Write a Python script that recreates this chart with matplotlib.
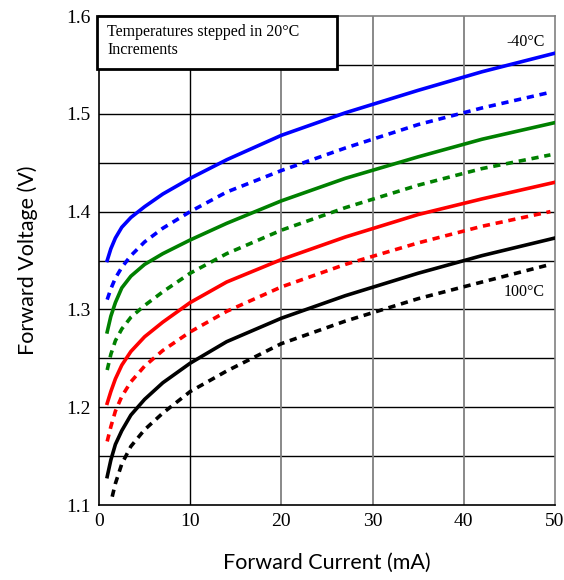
import matplotlib.pyplot as plt

# Forward voltage vs forward current, -40C (top) to 100C (bottom) in 20C steps
x_full = [0.9, 1.3, 1.8, 2.5, 3.5, 5, 7, 10, 14, 20, 27, 35, 42, 50]
x_dash = [0.9, 1.3, 1.8, 2.5, 3.5, 5, 7, 10, 14, 20, 27, 35, 42, 49.5]
x_black_d = [1.45, 1.8, 2.5, 3.5, 5, 7, 10, 14, 20, 27, 35, 42, 49.5]

v_blue = [1.350, 1.362, 1.373, 1.384, 1.394, 1.405, 1.418, 1.434, 1.453, 1.478, 1.501, 1.524, 1.543, 1.562]
v_blue_d = [1.310, 1.321, 1.332, 1.343, 1.355, 1.369, 1.383, 1.400, 1.420, 1.442, 1.465, 1.489, 1.506, 1.522]
v_green = [1.277, 1.293, 1.307, 1.322, 1.334, 1.346, 1.357, 1.371, 1.388, 1.411, 1.434, 1.456, 1.474, 1.491]
v_green_d = [1.238, 1.254, 1.268, 1.280, 1.292, 1.304, 1.318, 1.337, 1.357, 1.381, 1.404, 1.427, 1.444, 1.458]
v_red = [1.204, 1.216, 1.229, 1.243, 1.257, 1.272, 1.287, 1.307, 1.328, 1.351, 1.374, 1.397, 1.413, 1.430]
v_red_d = [1.165, 1.180, 1.196, 1.211, 1.226, 1.242, 1.258, 1.277, 1.298, 1.323, 1.346, 1.368, 1.385, 1.400]
v_black = [1.129, 1.146, 1.162, 1.176, 1.192, 1.208, 1.225, 1.245, 1.267, 1.291, 1.314, 1.337, 1.355, 1.373]
v_black_d = [1.1085, 1.122, 1.142, 1.160, 1.177, 1.194, 1.216, 1.237, 1.265, 1.288, 1.311, 1.328, 1.346]

x_ticks = [0, 10, 20, 30, 40, 50]
y_ticks = [1.1, 1.2, 1.3, 1.4, 1.5, 1.6]

fig = plt.figure(figsize=(5.64, 5.80), dpi=100)
ax = fig.add_axes([0.1755, 0.1293, 0.8085, 0.8431])

# grid
for yv in [1.15, 1.2, 1.25, 1.3, 1.35, 1.4, 1.45, 1.5, 1.55]:
    ax.axhline(yv, color='black', lw=1.0, zorder=1)
ax.axvline(10, color='black', lw=1.0, zorder=1)
for xv in [20, 30, 40]:
    ax.axvline(xv, color='#808080', lw=1.3, zorder=1)

dash = (0, (2, 1.6))
lw = 2.6
ax.plot(x_full, v_blue, color='#0000ff', lw=lw, zorder=3)
ax.plot(x_dash, v_blue_d, color='#0000ff', lw=lw, linestyle=dash, zorder=3)
ax.plot(x_full, v_green, color='#008000', lw=lw, zorder=3)
ax.plot(x_dash, v_green_d, color='#008000', lw=lw, linestyle=dash, zorder=3)
ax.plot(x_full, v_red, color='#ff0000', lw=lw, zorder=3)
ax.plot(x_dash, v_red_d, color='#ff0000', lw=lw, linestyle=dash, zorder=3)
ax.plot(x_full, v_black, color='black', lw=lw, zorder=3)
ax.plot(x_black_d, v_black_d, color='black', lw=lw, linestyle=dash, zorder=3)

ax.set_xlim(0, 50)
ax.set_ylim(1.1, 1.6)
ax.set_xticks(x_ticks)
ax.set_yticks(y_ticks)
ax.set_xticklabels([str(t) for t in x_ticks], family='Liberation Serif', fontsize=14)
ax.set_yticklabels(['%.1f' % t for t in y_ticks], family='Liberation Serif', fontsize=14)
ax.tick_params(length=0, pad=6)

for s in ['left', 'bottom']:
    ax.spines[s].set_color('black')
    ax.spines[s].set_linewidth(1.2)
for s in ['top', 'right']:
    ax.spines[s].set_color('#808080')
    ax.spines[s].set_linewidth(1.2)

ax.set_xlabel('Forward Current (mA)', family='Lato', fontsize=15.5, labelpad=16)
ax.set_ylabel('Forward Voltage (V)', family='Lato', fontsize=15.5, labelpad=20)

# note box
ax.text(0.9, 1.592, 'Temperatures stepped in 20\u00b0C\nIncrements', family='Liberation Serif',
        fontsize=11.5, va='top', ha='left', linespacing=1.15, zorder=5)
box = plt.Rectangle((-0.2, 1.546), 26.3, 0.054, fc='white', ec='black', lw=2.0,
                    zorder=4, clip_on=False)
ax.add_patch(box)

ax.text(48.9, 1.573, '-40\u00b0C', family='Liberation Serif', fontsize=11.5, ha='right', va='center', zorder=5)
ax.text(48.9, 1.318, '100\u00b0C', family='Liberation Serif', fontsize=11.5, ha='right', va='center', zorder=5)

plt.savefig('out.png', dpi=100)
